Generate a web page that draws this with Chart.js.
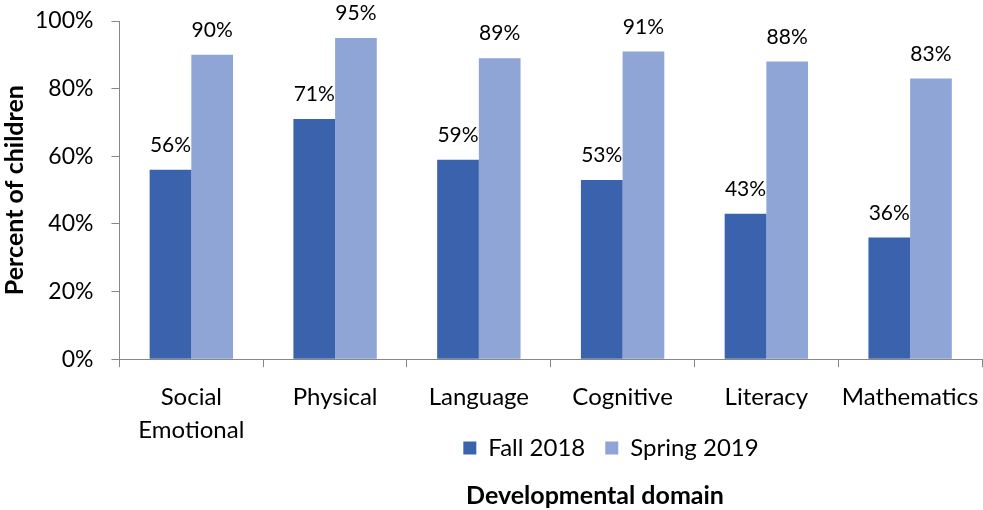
<!DOCTYPE html>
<html>
<head>
<meta charset="utf-8">
<script src="https://cdn.jsdelivr.net/npm/chart.js@4"></script>
<style>
  html, body { margin: 0; padding: 0; background: #fff; }
  #wrap { width: 983px; height: 510px; }
</style>
</head>
<body>
<div id="wrap"><canvas id="domainChart"></canvas></div>
<script>
// Chart data
const domains = [['Social', 'Emotional'], 'Physical', 'Language', 'Cognitive', 'Literacy', 'Mathematics'];
const fall2018 = [56, 71, 59, 53, 43, 36];
const spring2019 = [90, 95, 89, 91, 88, 83];
const yTicks = [0, 20, 40, 60, 80, 100];

const FONT = 'Lato, "Noto Sans", sans-serif';

// Value labels drawn above each bar
const barLabels = {
    id: 'barLabels',
    afterDatasetsDraw(chart) {
        const ctx = chart.ctx;
        ctx.save();
        ctx.font = '21px ' + FONT;
        ctx.fillStyle = '#000';
        ctx.textAlign = 'center';
        ctx.textBaseline = 'bottom';
        chart.data.datasets.forEach((ds, i) => {
            chart.getDatasetMeta(i).data.forEach((bar, j) => {
                ctx.fillText(ds.data[j] + '%', bar.x, bar.y - 14);
            });
        });
        ctx.restore();
    }
};

// Put legend and bottom title where the original has them
const placeBottom = {
    id: 'placeBottom',
    afterLayout(chart) {
        const lg = chart.legend;
        if (lg) {
            const h = lg.height;
            lg.left += 120; lg.right += 120;
            lg.top = 443 - h / 2; lg.bottom = lg.top + h;
        }
        const tb = chart.titleBlock;
        if (tb) {
            const h = tb.height;
            tb.left += 104; tb.right += 104;
            tb.top = 496 - h / 2; tb.bottom = tb.top + h;
        }
    }
};

new Chart(document.getElementById('domainChart'), {
    type: 'bar',
    data: {
        labels: domains,
        datasets: [
            {
                label: 'Fall 2018',
                data: fall2018,
                backgroundColor: '#3B63AD',
                categoryPercentage: 0.58,
                barPercentage: 1.0
            },
            {
                label: 'Spring 2019',
                data: spring2019,
                backgroundColor: '#8FA5D5',
                categoryPercentage: 0.58,
                barPercentage: 1.0
            }
        ]
    },
    options: {
        responsive: true,
        maintainAspectRatio: false,
        animation: false,
        layout: { padding: { top: 21, right: 1, left: 0, bottom: -34 } },
        scales: {
            x: {
                afterFit(scale) { scale.paddingLeft = 0; scale.paddingRight = 0; },
                border: { color: '#878787' },
                grid: { drawOnChartArea: false, tickLength: 8, color: '#878787', offset: true },
                ticks: { color: '#000', font: { family: FONT, size: 24, lineHeight: 1.35 }, padding: 14, maxRotation: 0 }
            },
            y: {
                min: 0,
                max: 100,
                afterBuildTicks(scale) { scale.ticks = yTicks.map(v => ({ value: v })); },
                afterFit(scale) { scale.paddingTop = 0; scale.paddingBottom = 0; },
                border: { color: '#878787' },
                grid: { drawOnChartArea: false, tickLength: 8, color: '#878787' },
                ticks: {
                    color: '#000',
                    font: { family: FONT, size: 23 },
                    padding: 18,
                    callback: v => v + '%'
                },
                title: {
                    display: true,
                    text: 'Percent of children',
                    color: '#000',
                    font: { family: FONT, size: 25, weight: 'bold' },
                    padding: { top: 0, bottom: -13 }
                }
            }
        },
        plugins: {
            legend: {
                position: 'bottom',
                labels: {
                    color: '#000',
                    font: { family: FONT, size: 24 },
                    boxWidth: 13,
                    boxHeight: 13,
                    padding: 20
                }
            },
            title: {
                display: true,
                position: 'bottom',
                text: 'Developmental domain',
                color: '#000',
                font: { family: FONT, size: 25, weight: 'bold' },
                padding: { top: 0, bottom: 0 }
            },
            tooltip: { enabled: false }
        }
    },
    plugins: [barLabels, placeBottom]
});
</script>
</body>
</html>
